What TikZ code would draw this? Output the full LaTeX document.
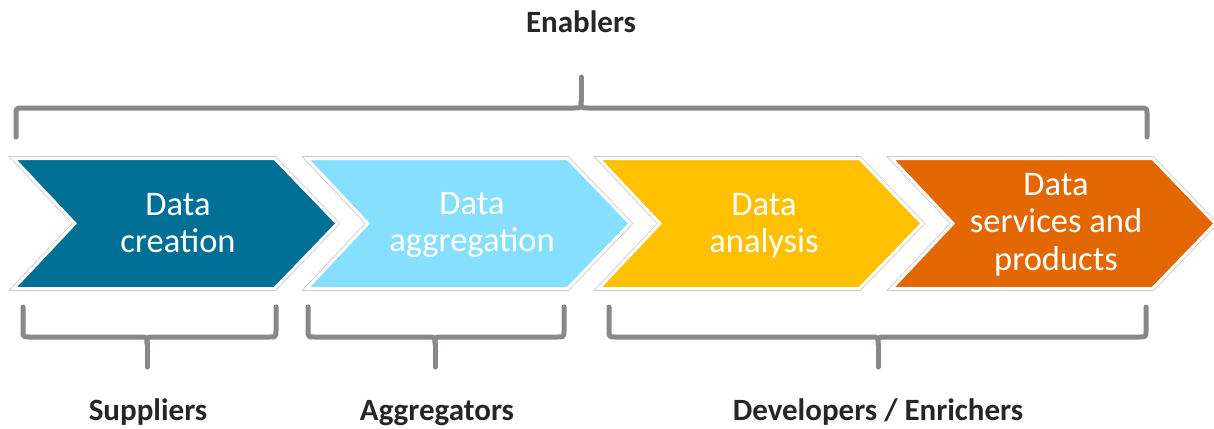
\documentclass[tikz,border=0pt]{standalone}
\usepackage{fontspec}
\setmainfont{Carlito}

\definecolor{stageA}{HTML}{006F96}
\definecolor{stageB}{HTML}{87DFFF}
\definecolor{stageC}{HTML}{FFC000}
\definecolor{stageD}{HTML}{E26700}
\definecolor{rimgray}{HTML}{C8C8C8}
\definecolor{bracegray}{HTML}{86888B}
\definecolor{labelink}{HTML}{262626}

% one chevron whose left edge starts at x = #1, filled with colour #2
\newcommand{\chevronat}[2]{%
  \path[chevpen, fill=#2, shift={(#1,0)}]
    (-3.4,158.5) -- (257.6,158.5) -- (320.2,223.5) -- (257.6,288.5)
    -- (-3.4,288.5) -- (57.9,223.5) -- cycle;}

% brace under a group of stages: left end #1, middle #2, right end #3
\newcommand{\groupbrace}[3]{%
  \draw[bracepen] (#1,307) -- (#1,330) .. controls (#1,337) .. ({#1+7},337)
    -- ({#2-7},337) .. controls (#2,337) .. (#2,344)
    .. controls (#2,337) .. ({#2+7},337)
    -- ({#3-7},337) .. controls (#3,337) .. (#3,330) -- (#3,307);
  \draw[bracepen] (#2,344) -- (#2,367);}

\begin{document}
\begin{tikzpicture}[x=1pt, y=-1pt,
  chevpen/.style={preaction={draw=rimgray, line width=4.6pt},
    draw=white, line width=3pt, line join=miter},
  chevtext/.style={text=white, font=\fontsize{34.5}{37.5}\selectfont,
    align=center, anchor=north, inner sep=0pt},
  grouplabel/.style={text=labelink, font=\fontsize{31}{36}\selectfont\bfseries,
    anchor=base, inner sep=0pt},
  bracepen/.style={draw=bracegray, line width=5pt, line cap=round,
    line join=round}]
\useasboundingbox[fill=white] (0,0) rectangle (1214,428);

% value-chain stages
\chevronat{17}{stageA}
\chevronat{310}{stageB}
\chevronat{602}{stageC}
\chevronat{895}{stageD}

\node[chevtext] (creation) at (178,193) {Data\\creation};
\node[chevtext] (aggregation) at (472,192) {Data\\aggregation};
\node[chevtext] (analysis) at (764,193) {Data\\analysis};
\node[chevtext] (services) at (1056,173) {Data\\services and\\products};

% brace over the whole chain
\draw[bracepen] (16,137) -- (16,115) .. controls (16,108) .. (23,108)
  -- (574,108) .. controls (581,108) .. (581,101)
  .. controls (581,108) .. (588,108)
  -- (1140,108) .. controls (1147,108) .. (1147,115) -- (1147,137);
\draw[bracepen] (581,101) -- (581,77);
\node[grouplabel] (enablers) at (581,33) {Enablers};

% braces under groups of stages
\groupbrace{23}{147}{276}
\groupbrace{308}{435}{564}
\groupbrace{609}{878}{1146}

\node[grouplabel] (suppliers) at (148,420) {Suppliers};
\node[grouplabel] (aggregators) at (437,420) {Aggregators};
\node[grouplabel] (developers) at (878,420) {Developers / Enrichers};
\end{tikzpicture}
\end{document}
